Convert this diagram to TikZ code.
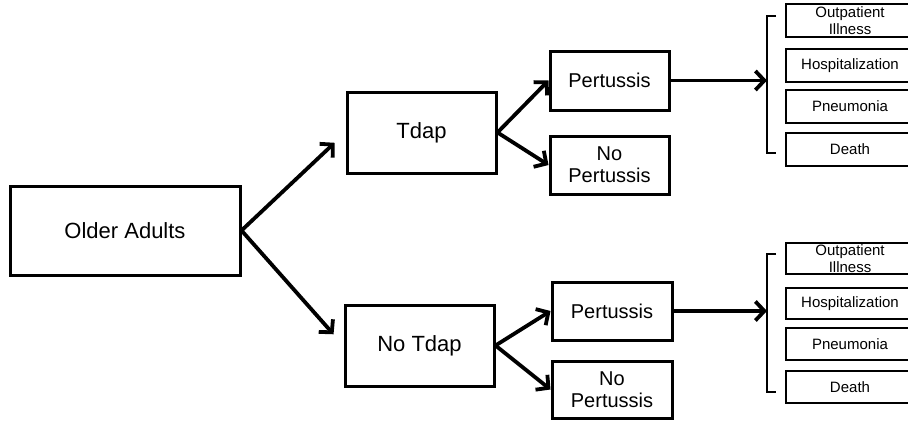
\documentclass[tikz,border=0pt]{standalone}
\usepackage{fontspec}
\setmainfont{Liberation Sans}
\usetikzlibrary{arrows.meta, positioning}

\tikzset{
  treebox/.style={draw, line width=3pt, inner sep=0pt, align=center},
  outbox/.style={draw, line width=2.8pt, inner sep=0pt, align=center,
    minimum width=128pt, minimum height=32pt, font=\fontsize{15}{17}\selectfont},
  arr/.style={-{Straight Barb[length=9pt,width=19pt]}, line width=3.8pt},
  bracket/.style={line width=2.8pt}
}

\begin{document}
\begin{tikzpicture}[x=1pt, y=-1pt]
            \useasboundingbox (0,0) rectangle (908,423);
            \clip (0,0) rectangle (908,423);
            % root
            \node[treebox, minimum width=230pt, minimum height=89pt, font=\fontsize{22}{26}\selectfont] (adults) at (125,230.5) {Older Adults};
            % vaccination branches
            \node[treebox, minimum width=149pt, minimum height=81pt, font=\fontsize{22}{26}\selectfont] (tdap) at (421.5,132.5) {Tdap};
            \node[treebox, minimum width=149pt, minimum height=81pt, font=\fontsize{22}{26}\selectfont] (notdap) at (419.5,345.5) {No Tdap};
            % infection branches
            \node[treebox, minimum width=119pt, minimum height=59pt, font=\fontsize{20}{22}\selectfont] (pertA) at (609.5,80.5) {Pertussis};
            \node[treebox, minimum width=119pt, minimum height=58pt, font=\fontsize{20}{22}\selectfont] (nopertA) at (609.5,165) {No\\Pertussis};
            \node[treebox, minimum width=120pt, minimum height=58pt, font=\fontsize{20}{22}\selectfont] (pertB) at (612,311) {Pertussis};
            \node[treebox, minimum width=120pt, minimum height=57pt, font=\fontsize{20}{22}\selectfont] (nopertB) at (612,389.5) {No\\Pertussis};
            % outcomes after Tdap
            \node[outbox, minimum height=33pt] (outptA) at (850,20.5) {Outpatient\\Illness};
            \node[outbox, minimum height=33pt] (hospA) at (850,65.5) {Hospitalization};
            \node[outbox, minimum height=33pt] (pneuA) at (850,106.5) {Pneumonia};
            \node[outbox, minimum height=33pt] (deathA) at (850,149.5) {Death};
            % outcomes after no Tdap
            \node[outbox, minimum height=31pt] (outptB) at (850,258.5) {Outpatient\\Illness};
            \node[outbox, minimum height=31pt] (hospB) at (850,303.5) {Hospitalization};
            \node[outbox] (pneuB) at (850,344) {Pneumonia};
            \node[outbox] (deathB) at (850,387) {Death};
            % brackets grouping the outcomes
            \draw[bracket] (776,16) -- (767,16) -- (767,153) -- (776,153);
            \draw[bracket] (776,254) -- (767,254) -- (767,392) -- (776,392);
            \coordinate (braceA) at (767,80.5);
            \coordinate (braceB) at (767,311);
            % arrows
            \draw[arr, shorten >=15pt] (adults.east) -- (tdap.west);
            \draw[arr, shorten >=15pt] (adults.east) -- (notdap.west);
            \draw[arr] (tdap.east) -- (pertA.west);
            \draw[arr] (tdap.east) -- (nopertA.west);
            \draw[arr] (notdap.east) -- (pertB.west);
            \draw[arr] (notdap.east) -- (nopertB.west);
            \draw[arr] (pertA.east) -- (braceA);
            \draw[arr] (pertB.east) -- (braceB);
        \end{tikzpicture}
\end{document}
